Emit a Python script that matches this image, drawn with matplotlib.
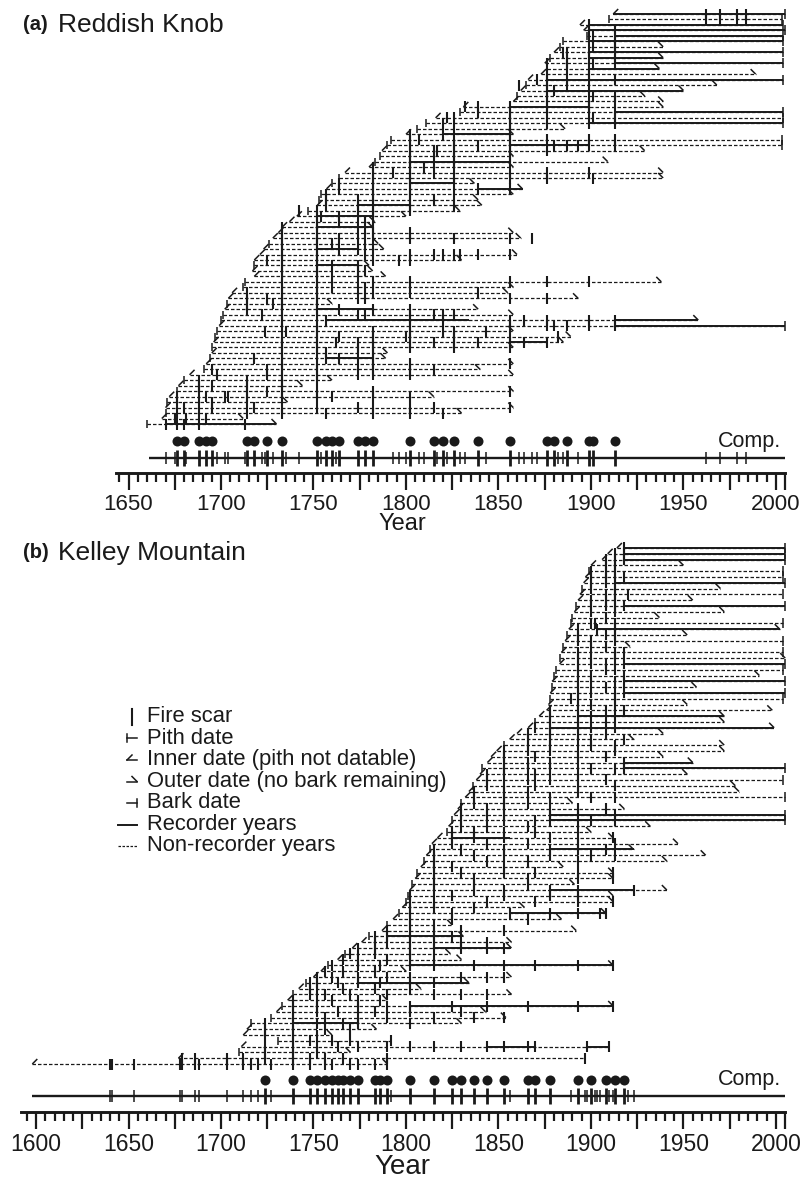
import matplotlib
matplotlib.use("Agg")
import matplotlib.pyplot as plt
from matplotlib.collections import LineCollection
from matplotlib.ticker import FixedLocator, FuncFormatter

plt.rcParams['font.family'] = ['Liberation Sans', 'DejaVu Sans']

figW, figH = 804, 1186
pxPerYear = 1.85
x2000 = 776
xLeft = 2000 - x2000 / pxPerYear
xRight = 2000 + (figW - x2000) / pxPerYear
ink = '#1a1a1a'

# ---------------- (a) Reddish Knob, one entry per sample, top to bottom
rkInner = [1912, 1910, 1894, 1896, 1898, 1885, 1883, 1880, 1878, 1875, 1876, 1873, 1866, 1865, 1862, 1860, 1858,
           1831, 1829, 1816, 1811, 1806, 1800, 1792, 1790, 1787, 1786, 1783, 1780, 1767, 1764, 1760, 1757,
           1754, 1753, 1752, 1747, 1741, 1737, 1733, 1731, 1728, 1726, 1723, 1721, 1718, 1718, 1717, 1718,
           1713, 1712, 1706, 1704, 1703, 1702, 1701, 1700, 1699, 1698, 1697, 1696, 1695, 1695, 1694, 1692,
           1691, 1683, 1680, 1677, 1676, 1672, 1671, 1670, 1670, 1668, 1660]
rkPith = [0, 1, 0, 0, 1, 1, 1, 0, 1, 0, 1, 0, 0, 1, 0, 1, 0,
          0, 1, 0, 1, 1, 0, 1, 1, 0, 1, 1, 0, 0, 1, 1, 0,
          1, 1, 0, 1, 0, 0, 0, 0, 0, 1, 0, 0, 0, 1, 0, 0,
          1, 1, 0, 0, 1, 0, 1, 1, 0, 1, 1, 0, 1, 0, 1, 0,
          1, 0, 1, 0, 1, 0, 1, 0, 1, 0, 1]
rkOuter = [2005, 2003, 2004, 2005, 2004, 2004, 1939, 2004, 1939, 2004, 1937, 1989, 2004, 1968, 1950, 1929, 1939,
           1939, 2004, 2004, 2004, 1886, 1858, 2003, 2003, 1929, 1858, 1909, 1858, 1939, 1939, 1837, 1863,
           1858, 1839, 1841, 1829, 1800, 1783, 1782, 1858, 1862, 1785, 1788, 1860, 1830, 1780, 1782, 1789,
           1938, 1858, 1855, 1893, 1760, 1839, 1858, 1958, 2005, 1858, 1889, 1885, 1858, 1790, 1789, 1858,
           1840, 1858, 1760, 1744, 1858, 1815, 1736, 1858, 1830, 1712, 1730]
rkBark = [1, 1, 1, 1, 1, 1, 0, 1, 0, 1, 0, 0, 1, 0, 0, 0, 0,
          0, 1, 1, 1, 0, 0, 1, 1, 0, 0, 0, 0, 0, 0, 0, 0,
          0, 0, 0, 0, 0, 0, 0, 0, 0, 0, 0, 0, 0, 0, 0, 0,
          0, 0, 0, 0, 0, 0, 0, 0, 1, 0, 0, 0, 0, 0, 0, 0,
          0, 0, 0, 0, 0, 0, 0, 0, 0, 0, 0]
rkRecorder = [[(1912, 2005)], [], [(1899, 2004)], [(1899, 2005)], [(1913, 2004)], [(1899, 2004)], [],
              [(1899, 2004)], [(1899, 1939)], [(1913, 2004)], [(1899, 1937)], [], [(1876, 2004)], [],
              [(1876, 1950)], [], [],
              [(1856, 1899)], [(1913, 2004)], [], [(1899, 2004)], [], [(1820, 1856)], [], [(1856, 1899)],
              [], [], [(1802, 1856)], [], [], [], [(1802, 1826)], [(1839, 1863)],
              [], [], [(1774, 1802)], [], [(1752, 1782)], [], [(1752, 1782)], [], [], [], [(1752, 1774)],
              [], [], [(1752, 1774)], [], [],
              [], [], [], [], [], [(1752, 1782)], [], [(1757, 1834), (1913, 1958)], [(1913, 2005)], [],
              [], [(1856, 1876)], [], [], [(1757, 1782)], [],
              [], [], [], [], [], [], [], [], [], [], [(1670, 1730)]]
rkScars = [[1962, 1970, 1979, 1984], [1962, 1970, 1979, 1984], [1899], [1899, 1913], [1901, 1913],
           [1899, 1913], [1901, 1913], [1885, 1887, 1899, 1913], [1887, 1899, 1913], [1876, 1887, 1901, 1913],
           [1887, 1899], [1876, 1899], [1871, 1876, 1887, 1899, 1913], [1861, 1876, 1887], [1876, 1880, 1899],
           [1876, 1901, 1913], [1876, 1899, 1913],
           [1832, 1839, 1856, 1876, 1899], [1839, 1856, 1876, 1899, 1913], [1822, 1826, 1856, 1901, 1913],
           [1820, 1856, 1876, 1899, 1913], [1826, 1856], [1802, 1820, 1856],
           [1802, 1807, 1826, 1856, 1876, 1899, 1913], [1802, 1826, 1839, 1856, 1880, 1887, 1893, 1899, 1913],
           [1802, 1815, 1817, 1826, 1856, 1876], [1802, 1826, 1856], [1802, 1815, 1826, 1856],
           [1782, 1802, 1810, 1826], [1782, 1793, 1802, 1815, 1856, 1876, 1899],
           [1782, 1802, 1826, 1856, 1876, 1901], [1764, 1782, 1802, 1826], [1764, 1782, 1802, 1839, 1856],
           [1757, 1782, 1802, 1826], [1757, 1774, 1782, 1802, 1815], [1757, 1774, 1782, 1802, 1826],
           [1742, 1752, 1774, 1782, 1802], [1752, 1754, 1764, 1774, 1782], [1752, 1764, 1778],
           [1733, 1752, 1774, 1782], [1733, 1752, 1778, 1782, 1802],
           [1733, 1752, 1764, 1774, 1782, 1802, 1826, 1856, 1868], [1733, 1752, 1760, 1778],
           [1733, 1752, 1764, 1774, 1782], [1733, 1752, 1778, 1802, 1815, 1820, 1826, 1829, 1839, 1856],
           [1725, 1733, 1752, 1782, 1796, 1802], [1733, 1752, 1760, 1774], [1733, 1752, 1774, 1778],
           [1733, 1752, 1760, 1774],
           [1733, 1752, 1782, 1802, 1856, 1876, 1899], [1733, 1752, 1760, 1774, 1778],
           [1714, 1733, 1752, 1782, 1802, 1839], [1714, 1725, 1733, 1752, 1774, 1778, 1856, 1876],
           [1714, 1728, 1733, 1752], [1714, 1733, 1752, 1764, 1782, 1802],
           [1722, 1733, 1752, 1774, 1778, 1802, 1815, 1820, 1826],
           [1733, 1757, 1802, 1820, 1856, 1864, 1876, 1899, 1913],
           [1733, 1752, 1802, 1856, 1876, 1880, 1887, 1899, 1913],
           [1724, 1735, 1752, 1782, 1802, 1820, 1826, 1843],
           [1733, 1752, 1764, 1782, 1800, 1802, 1826, 1856, 1882],
           [1733, 1752, 1762, 1774, 1782, 1802, 1815, 1826, 1839, 1856, 1864, 1876],
           [1733, 1752, 1774, 1782, 1802, 1826, 1856], [1733, 1752, 1757, 1774, 1782],
           [1718, 1733, 1757, 1764, 1782], [1733, 1752, 1774, 1782, 1802, 1856],
           [1695, 1725, 1733, 1752, 1782, 1802, 1815], [1698, 1725, 1733, 1752, 1774, 1782, 1802],
           [1688, 1714, 1733, 1752], [1688, 1695, 1714, 1733], [1688, 1714, 1725, 1733, 1752, 1782, 1856],
           [1676, 1692, 1702, 1704, 1714, 1733, 1752, 1760, 1782, 1802], [1676, 1688, 1695, 1714],
           [1680, 1695, 1718, 1733, 1752, 1774, 1782, 1802, 1815, 1856],
           [1676, 1688, 1714, 1733, 1757, 1782, 1802, 1820], [1675, 1681, 1692],
           [1670, 1676, 1680, 1688, 1713]]
rkComposite = [1676, 1680, 1688, 1692, 1695, 1714, 1718, 1725, 1733, 1752, 1757, 1760, 1764, 1774, 1778,
               1782, 1802, 1815, 1820, 1826, 1839, 1856, 1876, 1880, 1887, 1899, 1901, 1913]

# ---------------- (b) Kelley Mountain, one entry per sample, top to bottom
kmInner = [1914, 1909, 1906, 1900, 1899, 1897, 1896, 1895, 1894, 1893, 1892, 1891, 1890, 1889, 1888, 1887,
           1886, 1885, 1884, 1883, 1883, 1881, 1880, 1879, 1879, 1878, 1878, 1877, 1876, 1872, 1870, 1866,
           1860, 1856, 1853, 1849, 1846, 1844, 1841, 1840, 1838, 1836, 1834, 1832, 1830, 1828, 1826, 1825,
           1823, 1822, 1817, 1814, 1813, 1811, 1810, 1808, 1806, 1805, 1803, 1802, 1801, 1800, 1798, 1796,
           1793, 1790, 1787, 1780, 1776, 1771, 1767, 1763, 1758, 1754, 1750, 1746, 1742, 1739, 1736, 1733,
           1730, 1727, 1716, 1714, 1712, 1731, 1711, 1710, 1677, 1598]
kmPith = [0, 0, 0, 0, 1, 0, 0, 1, 0, 0, 1, 0, 1, 1, 0, 1,
          0, 1, 0, 1, 0, 1, 1, 0, 1, 0, 1, 0, 0, 0, 1, 0,
          0, 0, 1, 0, 0, 0, 1, 0, 0, 1, 0, 0, 1, 0, 0, 1,
          0, 1, 0, 0, 1, 0, 1, 0, 1, 0, 1, 0, 1, 1, 0, 1,
          0, 1, 0, 1, 0, 0, 1, 0, 1, 0, 0, 1, 0, 1, 0, 1,
          0, 1, 1, 0, 0, 1, 0, 1, 0, 0]
kmOuter = [2005, 2005, 2005, 1950, 2004, 2004, 2005, 1970, 2004, 1955, 2005, 1972, 1937, 2004, 2002, 1952,
           2004, 1921, 2004, 2005, 2005, 2004, 1991, 2005, 1957, 2005, 2004, 1952, 1998, 1972, 1972, 1999,
           1939, 1923, 1972, 1972, 1939, 1955, 2005, 1952, 2004, 1978, 1980, 2005, 1890, 1918, 2005, 2005,
           1932, 1900, 1912, 1947, 1923, 1962, 1941, 1885, 1912, 1912, 1891, 1941, 1912, 1912, 1864, 1908,
           1884, 1825, 1892, 1831, 1857, 1857, 1824, 1830, 1912, 1800, 1857, 1834, 1808, 1857, 1790, 1912,
           1843, 1854, 1830, 1784, 1760, 1792, 1910, 1770, 1897, 1790]
kmBark = [1, 1, 1, 0, 1, 1, 1, 0, 1, 0, 1, 0, 0, 1, 0, 0,
          1, 0, 1, 0, 1, 1, 0, 1, 0, 1, 1, 0, 0, 0, 0, 0,
          0, 0, 0, 0, 0, 0, 1, 0, 1, 0, 0, 1, 0, 0, 1, 1,
          0, 0, 0, 0, 0, 0, 0, 0, 0, 0, 0, 0, 0, 0, 0, 0,
          0, 0, 0, 0, 0, 0, 0, 0, 0, 0, 0, 0, 0, 0, 0, 0,
          0, 0, 0, 0, 0, 1, 1, 0, 1, 0]
kmRecorder = [[(1918, 2005)], [(1918, 2005)], [(1918, 2005)], [], [], [], [(1913, 2005)], [], [], [],
              [(1918, 2005)], [], [], [], [(1903, 2002)], [],
              [], [], [], [], [(1918, 2005)], [], [], [(1918, 2005)], [], [(1918, 2005)], [], [], [],
              [(1893, 1972)], [], [(1878, 1999)],
              [], [], [], [], [], [(1918, 1955)], [(1918, 2005)], [], [], [], [], [], [], [],
              [(1878, 2005)], [(1878, 2005)],
              [], [], [(1825, 1856)], [], [(1878, 1923)], [], [], [], [], [], [], [(1878, 1923)], [], [],
              [], [(1856, 1908)],
              [], [], [], [(1790, 1831)], [], [(1815, 1857)], [], [], [(1802, 1912)], [], [],
              [(1774, 1834)], [], [], [], [(1802, 1912)],
              [], [], [(1739, 1774)], [], [], [], [(1844, 1870), (1898, 1910)], [], [], []]
kmScars = [[1918], [1913, 1918], [1908, 1913, 1918], [1908, 1913], [1900, 1908, 1913],
           [1900, 1908, 1913, 1918], [1900, 1908, 1913], [1900, 1913], [1908, 1913, 1920],
           [1900, 1908, 1913], [1900, 1908, 1913, 1918], [1900, 1913], [1908], [1900, 1902, 1913],
           [1893, 1903, 1913], [1893, 1908, 1913],
           [1893, 1900, 1913], [1900, 1908], [1893, 1913, 1918], [1893, 1900, 1913],
           [1893, 1900, 1908, 1918], [1893, 1908, 1913], [1893, 1900, 1918], [1893, 1900, 1913, 1918],
           [1893, 1908], [1893, 1900, 1913, 1918], [1889, 1893, 1913], [1893, 1900, 1913],
           [1878, 1893, 1908, 1918], [1878, 1893, 1900, 1913], [1878, 1893, 1908],
           [1870, 1878, 1893, 1900, 1913],
           [1866, 1878, 1893, 1908], [1866, 1878, 1893, 1900, 1918], [1866, 1878, 1900, 1913],
           [1853, 1866, 1878, 1893, 1913], [1853, 1870, 1893, 1908], [1853, 1866, 1878, 1893, 1918],
           [1853, 1866, 1878, 1900, 1913, 1918], [1844, 1853, 1870, 1893], [1844, 1866, 1878, 1893, 1908],
           [1844, 1853, 1870, 1893, 1913], [1837, 1853, 1866, 1893], [1837, 1853, 1878, 1900, 1913],
           [1837, 1853, 1866], [1830, 1844, 1853, 1878, 1893, 1908],
           [1830, 1844, 1853, 1878, 1893, 1913], [1830, 1853, 1870, 1878, 1900, 1913],
           [1830, 1844, 1866, 1893], [1825, 1837, 1853, 1870],
           [1825, 1837, 1853, 1878, 1893, 1912], [1825, 1844, 1866, 1893, 1913],
           [1815, 1830, 1853, 1878, 1893, 1908], [1815, 1837, 1853, 1878, 1900, 1913],
           [1815, 1844, 1866, 1893], [1815, 1825, 1853], [1815, 1830, 1853, 1870, 1893, 1912],
           [1815, 1837, 1866, 1893, 1912], [1815, 1837, 1866], [1815, 1837, 1853, 1878, 1893, 1923],
           [1802, 1825, 1853, 1878, 1893], [1802, 1815, 1844, 1870, 1893, 1912], [1802, 1815, 1837],
           [1802, 1825, 1856, 1878, 1893, 1905, 1908],
           [1802, 1825, 1866], [1802, 1815], [1790, 1802, 1815, 1830, 1853],
           [1783, 1790, 1802, 1815, 1825], [1783, 1790, 1802, 1815, 1830, 1844],
           [1774, 1783, 1802, 1815, 1830, 1844, 1853], [1770, 1783, 1802], [1766, 1774, 1790, 1802, 1815],
           [1760, 1774, 1786, 1802, 1815, 1837, 1853, 1870, 1893, 1912], [1756, 1766, 1783],
           [1752, 1760, 1774, 1790, 1802, 1830, 1844, 1853], [1748, 1752, 1763, 1774, 1786, 1802, 1815],
           [1748, 1752, 1766, 1783, 1802], [1748, 1756, 1770, 1790, 1815, 1830, 1844],
           [1739, 1752, 1760, 1774, 1786],
           [1739, 1752, 1774, 1790, 1802, 1825, 1844, 1866, 1893, 1912],
           [1739, 1752, 1763, 1783, 1802, 1830], [1739, 1756, 1774, 1790, 1815, 1837, 1853],
           [1724, 1739, 1752, 1766, 1774, 1802], [1724, 1739, 1756, 1770], [1724, 1739, 1752],
           [1739, 1748, 1760, 1770, 1792],
           [1724, 1739, 1752, 1763, 1774, 1790, 1802, 1815, 1830, 1844, 1853, 1866, 1870, 1898, 1910],
           [1724, 1739, 1752],
           [1679, 1686, 1703, 1712, 1724, 1739, 1748, 1756, 1766, 1790, 1897],
           [1640, 1641, 1653, 1678, 1679, 1686, 1688, 1703, 1712, 1716, 1720, 1727, 1739, 1748, 1756,
            1760, 1770, 1774, 1783, 1790]]
kmComposite = [1724, 1739, 1748, 1752, 1756, 1760, 1763, 1766, 1770, 1774, 1783, 1786, 1790, 1802, 1815,
               1825, 1830, 1837, 1844, 1853, 1866, 1870, 1878, 1893, 1900, 1908, 1913, 1918]


def pxToYear(px):
    return 2000 + (px - x2000) / pxPerYear


def drawTrees(ax, rowYs, inner, pith, outer, bark, recorder, scars):
    """ Draw one horizontal line per sample with its end symbols and scars. """
    barb = 5 / pxPerYear
    dashed, solid, ends, scarSegs = [], [], [], []
    for i, y in enumerate(rowYs):
        dashed.append([(inner[i], y), (outer[i], y)])
        for a, b in recorder[i]:
            solid.append([(a, y), (b, y)])
        if pith[i]:
            ends.append([(inner[i], y - 4), (inner[i], y + 4)])
        else:
            ends.append([(inner[i], y), (inner[i] + barb, y - 5)])
        if bark[i]:
            ends.append([(outer[i], y - 5), (outer[i], y + 5)])
        else:
            ends.append([(outer[i], y), (outer[i] - barb, y - 5)])
        for s in scars[i]:
            scarSegs.append([(s, y - 5.5), (s, y + 5.5)])
    ax.add_collection(LineCollection(dashed, colors=ink, linewidths=0.9,
                                     linestyles=[(0, (2.8, 1.6))]))
    ax.add_collection(LineCollection(solid, colors=ink, linewidths=1.4))
    ax.add_collection(LineCollection(ends, colors=ink, linewidths=1.1))
    ax.add_collection(LineCollection(scarSegs, colors=ink, linewidths=1.5))


def drawComposite(ax, scars, composite, first, last, lineY, dotY):
    """ Composite line: every scar year as a tick, filtered fire years as dots. """
    years = sorted(set(s for row in scars for s in row))
    minorYears = [s for s in years if s not in composite]
    ax.plot([first, last], [lineY, lineY], color=ink, lw=1.7, solid_capstyle='butt')
    ax.add_collection(LineCollection([[(s, lineY - 6), (s, lineY + 6)] for s in minorYears],
                                     colors=ink, linewidths=1.1))
    ax.add_collection(LineCollection([[(s, lineY - 8), (s, lineY + 8)] for s in composite],
                                     colors=ink, linewidths=2.0))
    ax.plot(composite, [dotY] * len(composite), 'o', color=ink, ms=7.2, mec='none')
    ax.text(pxToYear(781), dotY, 'Comp.', ha='right', va='center', fontsize=15.5, color=ink)


def setupAxis(ax, start, end, labelSize, yearSize, yearPad):
    ax.set_xlim(xLeft, xRight)
    for side in ['left', 'right', 'top']:
        ax.spines[side].set_visible(False)
    ax.spines['bottom'].set_bounds(start, end)
    ax.spines['bottom'].set_linewidth(2.1)
    ax.spines['bottom'].set_color(ink)
    ax.set_yticks([])
    first = int(start // 5 * 5 + 5)
    major = [y for y in range(first, end + 1, 5) if y % 25 == 0] + [end]
    minor = [y for y in range(first, end + 1, 5) if y % 25 != 0 and y != end]
    ax.xaxis.set_major_locator(FixedLocator(major))
    ax.xaxis.set_minor_locator(FixedLocator(minor))
    ax.xaxis.set_major_formatter(FuncFormatter(lambda v, p: '%d' % v if v % 50 == 0 else ''))
    ax.tick_params(axis='x', which='major', length=12, width=1.6, color=ink,
                   labelsize=labelSize, pad=3, labelcolor=ink)
    ax.tick_params(axis='x', which='minor', length=6.3, width=1.6, color=ink)
    ax.set_xlabel('Year', fontsize=yearSize, labelpad=yearPad, color=ink)


fig = plt.figure(figsize=(figW / 100, figH / 100), dpi=100)

# panel (a)
axisA = 473
axA = fig.add_axes([0, 1 - axisA / figH, 1, axisA / figH])
axA.set_ylim(axisA, 0)
rowsA = [14 + i * (424 - 14) / (len(rkInner) - 1) for i in range(len(rkInner))]
drawTrees(axA, rowsA, rkInner, rkPith, rkOuter, rkBark, rkRecorder, rkScars)
drawComposite(axA, rkScars, rkComposite, 1661, 2005, 458, 441)
setupAxis(axA, 1643, 2005, 16, 17, -1)

# panel (b)
topB, axisB = 530, 1112
axB = fig.add_axes([0, 1 - axisB / figH, 1, (axisB - topB) / figH])
axB.set_ylim(axisB, topB)
rowsB = [548 + i * (1064 - 548) / (len(kmInner) - 1) for i in range(len(kmInner))]
drawTrees(axB, rowsB, kmInner, kmPith, kmOuter, kmBark, kmRecorder, kmScars)
drawComposite(axB, kmScars, kmComposite, 1598, 2005, 1096, 1080)
setupAxis(axB, 1592, 2005, 16.5, 20, -1)

# legend
legendRows = ['Fire scar', 'Pith date', 'Inner date (pith not datable)', 'Outer date (no bark remaining)',
              'Bark date', 'Recorder years', 'Non-recorder years']
lx0, lx1 = pxToYear(127), pxToYear(137)
barb = 5 / pxPerYear
for k, label in enumerate(legendRows):
    y = 717 + k * 21.5
    axB.text(pxToYear(147), y, label, ha='left', va='center', fontsize=15.8, color=ink)
    if k == 0:
        axB.plot([pxToYear(132)] * 2, [y - 8, y + 8], color=ink, lw=1.5)
    elif k == 1:
        axB.plot([lx0, lx1], [y, y], color=ink, lw=1.1)
        axB.plot([lx0, lx0], [y - 4, y + 4], color=ink, lw=1.1)
    elif k == 2:
        axB.plot([lx0, lx1], [y, y], color=ink, lw=1.1)
        axB.plot([lx0, lx0 + barb], [y, y - 5], color=ink, lw=1.1)
    elif k == 3:
        axB.plot([lx0, lx1], [y, y], color=ink, lw=1.1)
        axB.plot([lx1, lx1 - barb], [y, y - 5], color=ink, lw=1.1)
    elif k == 4:
        axB.plot([lx0, lx1], [y, y], color=ink, lw=1.1)
        axB.plot([lx1, lx1], [y - 4, y + 4], color=ink, lw=1.1)
    elif k == 5:
        axB.plot([pxToYear(118), lx1], [y, y], color=ink, lw=1.4)
    else:
        axB.plot([pxToYear(118), lx1], [y, y], color=ink, lw=0.9, ls=(0, (2.0, 1.2)))

# panel titles
fig.text(23 / figW, 1 - 25 / figH, '(a)', fontsize=14.5, fontweight='bold', va='center', color=ink)
fig.text(58 / figW, 1 - 25 / figH, 'Reddish Knob', fontsize=19, va='center', color=ink)
fig.text(23 / figW, 1 - 553 / figH, '(b)', fontsize=14.5, fontweight='bold', va='center', color=ink)
fig.text(58 / figW, 1 - 553 / figH, 'Kelley Mountain', fontsize=19, va='center', color=ink)

fig.savefig('out.png', dpi=100)
